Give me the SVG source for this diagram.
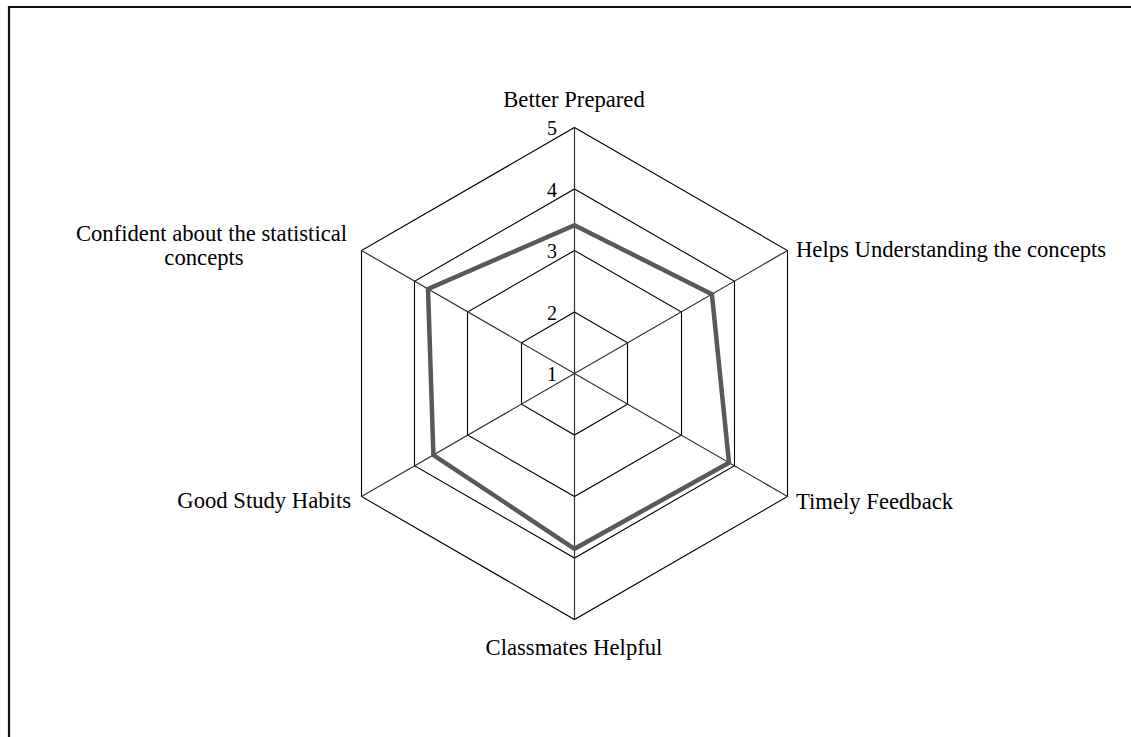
<svg xmlns="http://www.w3.org/2000/svg" width="1131" height="737" viewBox="0 0 1131 737">
<style>
text{font-family:"Liberation Serif","Times New Roman",serif;fill:#000}
.lab{font-size:22.67px}
.num{font-size:20px;text-anchor:end}
.grid{fill:none;stroke:#000;stroke-width:1.1}
.spoke{stroke:#333;stroke-width:1.2}
.data{fill:none;stroke:#595959;stroke-width:4.5;stroke-linejoin:miter}
</style>
<rect width="1131" height="737" fill="#fff"/>
<path d="M9,745 V7 H1140" fill="none" stroke="#111" stroke-width="2.2"/>
<g id="grid">
<polygon class="grid" points="574.5,312 627.5,342.75 627.5,404.25 574.5,435 521.5,404.25 521.5,342.75"/>
<polygon class="grid" points="574.5,250.5 681.5,312 681.5,435 574.5,496.5 467.5,435 467.5,312"/>
<polygon class="grid" points="574.5,189 734.5,281.25 734.5,465.75 574.5,558 414.5,465.75 414.5,281.25"/>
<polygon class="grid" points="574.5,127.5 787.5,250.5 787.5,496.5 574.5,619.5 361.5,496.5 361.5,250.5"/>
</g>
<g id="connectors">
<line class="spoke" x1="574.5" y1="373.5" x2="574.5" y2="127.5"/>
<line class="spoke" x1="574.5" y1="373.5" x2="787.5" y2="250.5"/>
<line class="spoke" x1="574.5" y1="373.5" x2="787.5" y2="496.5"/>
<line class="spoke" x1="574.5" y1="373.5" x2="574.5" y2="619.5"/>
<line class="spoke" x1="574.5" y1="373.5" x2="361.5" y2="496.5"/>
<line class="spoke" x1="574.5" y1="373.5" x2="361.5" y2="250.5"/>
</g>
<g id="series">
<polygon class="data" points="574.5,225.3 711.9,294.15 729,462.7 574.5,548.8 433.4,455 428,288.9"/>
</g>
<g id="scale">
<text class="num" x="557" y="381">1</text>
<text class="num" x="557" y="319.5">2</text>
<text class="num" x="557" y="258">3</text>
<text class="num" x="557" y="196.5">4</text>
<text class="num" x="557" y="135">5</text>
</g>
<g id="node-better-prepared"><text class="lab" x="574" y="107" text-anchor="middle">Better Prepared</text></g>
<g id="node-helps-understanding"><text class="lab" x="796" y="257">Helps Understanding the concepts</text></g>
<g id="node-timely-feedback"><text class="lab" x="796" y="509">Timely Feedback</text></g>
<g id="node-classmates-helpful"><text class="lab" x="574" y="655" text-anchor="middle">Classmates Helpful</text></g>
<g id="node-good-study-habits"><text class="lab" x="351" y="508" text-anchor="end">Good Study Habits</text></g>
<g id="node-confident"><text class="lab" x="211.5" y="241" text-anchor="middle">Confident about the statistical</text><text class="lab" x="204" y="265" text-anchor="middle">concepts</text></g>
</svg>
